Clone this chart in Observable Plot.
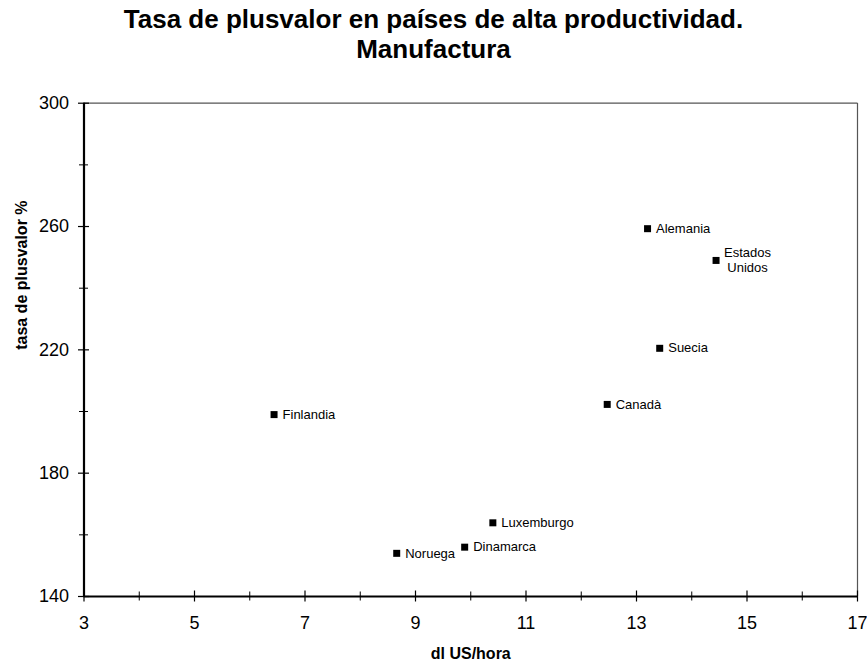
<!DOCTYPE html>
<html>
<head>
<meta charset="utf-8">
<script src="https://cdn.jsdelivr.net/npm/d3@7"></script>
<script src="https://cdn.jsdelivr.net/npm/@observablehq/plot@0.6"></script>
<style>
  html, body { margin: 0; padding: 0; background: #fff; }
  #title {
    width: 867px; height: 66px; box-sizing: border-box; padding-top: 4px;
    font-family: "Liberation Sans", Arial, sans-serif; font-weight: bold;
    font-size: 26px; line-height: 30px; text-align: center; color: #000;
  }
</style>
</head>
<body>
<div id="title">Tasa de plusvalor en países de alta productividad.<br>Manufactura</div>
<div id="chart"></div>
<script>
const countries = ["Alemania", "Estados Unidos", "Suecia", "Canadà", "Finlandia", "Luxemburgo", "Dinamarca", "Noruega"];
const usdHour   = [13.2, 14.44, 13.42, 12.47, 6.44, 10.40, 9.89, 8.66];
const surplus   = [259.3, 249.0, 220.5, 202.3, 199.0, 163.9, 156.0, 154.0];
const xTicks = [3, 5, 7, 9, 11, 13, 15, 17];
const xMinor = [4, 6, 8, 10, 12, 14, 16];
const yTicks = [140, 180, 220, 260, 300];
const yMinor = [160, 200, 240, 280];

const data = countries.map((c, i) => ({name: c, x: usdHour[i], y: surplus[i]}));
const single = data.filter(d => d.name !== "Estados Unidos");
const multi = data.filter(d => d.name === "Estados Unidos").map(d => ({...d, name: "Estados\nUnidos"}));

const font = "Liberation Sans, Arial, sans-serif";

const chart = Plot.plot({
  width: 867,
  height: 599,
  marginTop: 36.7,
  marginBottom: 69,
  marginLeft: 83.5,
  marginRight: 10,
  style: {fontFamily: font, color: "#000", background: "#fff", overflow: "visible"},
  x: {domain: [3, 17]},
  y: {domain: [140, 300]},
  marks: [
    // frame
    Plot.ruleY([300], {stroke: "#555", strokeWidth: 1.2}),
    Plot.ruleX([17], {stroke: "#555", strokeWidth: 1.2}),
    Plot.ruleX([3], {stroke: "#000", strokeWidth: 2.2}),
    Plot.ruleY([140], {stroke: "#000", strokeWidth: 1.8}),
    // cross ticks
    Plot.ruleX(xTicks, {x: d => d, y1: 140, y2: 140, insetTop: -5.5, insetBottom: -5.5, stroke: "#000", strokeWidth: 1.2}),
    Plot.ruleX(xMinor, {x: d => d, y1: 140, y2: 140, insetTop: -4.5, insetBottom: -4.5, stroke: "#000", strokeWidth: 1}),
    Plot.ruleY(yTicks, {y: d => d, x1: 3, x2: 3, insetLeft: -5.5, insetRight: -5.5, stroke: "#000", strokeWidth: 1.2}),
    Plot.ruleY(yMinor, {y: d => d, x1: 3, x2: 3, insetLeft: -4.5, insetRight: -4.5, stroke: "#000", strokeWidth: 1}),
    // axes labels
    Plot.axisX({ticks: xTicks, tickSize: 0, tickPadding: 20, fontSize: 18, label: null, tickFormat: d => String(d)}),
    Plot.axisY({ticks: yTicks, tickSize: 0, tickPadding: 15, fontSize: 18, label: null, tickFormat: d => String(d)}),
    Plot.text(["dl US/hora"], {frameAnchor: "bottom", dy: 62, lineAnchor: "bottom", fontSize: 16, fontWeight: "bold", text: d => d}),
    Plot.text(["tasa de plusvalor %"], {frameAnchor: "left", dx: -62, rotate: -90, fontSize: 16, fontWeight: "bold", text: d => d}),
    // data
    Plot.dot(data, {x: "x", y: "y", symbol: "square", r: 3.95, fill: "#000", stroke: null}),
    Plot.text(single, {x: "x", y: "y", text: "name", textAnchor: "start", dx: 8.5, fontSize: 13, fill: "#000"}),
    Plot.text(multi, {x: "x", y: "y", text: "name", textAnchor: "middle", dx: 31.5, dy: -0.5, fontSize: 13, lineHeight: 1.15, fill: "#000"})
  ]
});
document.getElementById("chart").appendChild(chart);
</script>
</body>
</html>
